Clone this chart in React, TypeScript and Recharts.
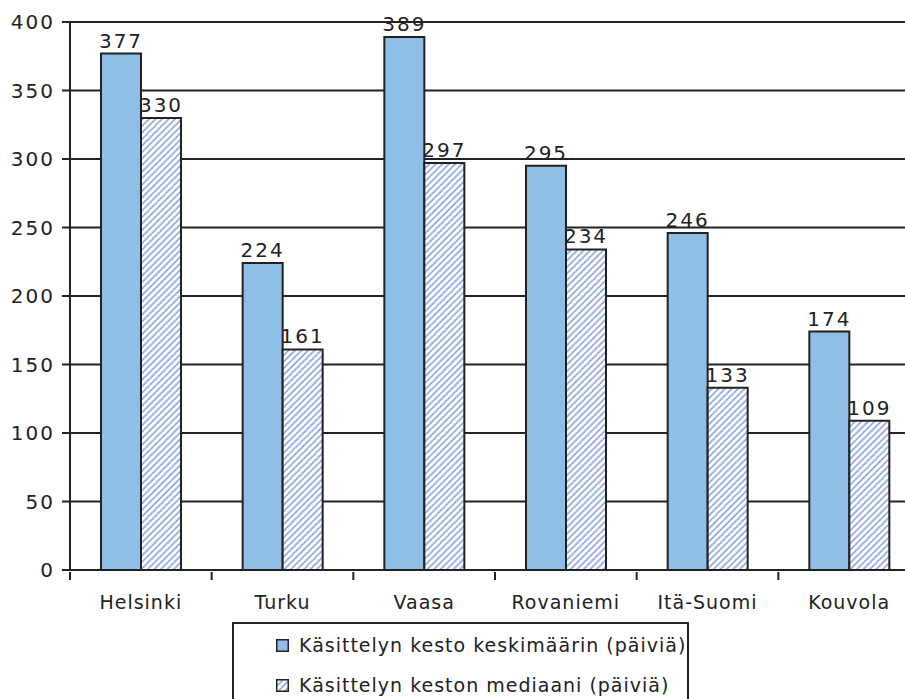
import { BarChart, Bar, XAxis, YAxis, CartesianGrid, LabelList } from 'recharts';

const cities = ['Helsinki', 'Turku', 'Vaasa', 'Rovaniemi', 'Itä-Suomi', 'Kouvola'];
const meanDays = [377, 224, 389, 295, 246, 174];
const medianDays = [330, 161, 297, 234, 133, 109];
const yTicks = [0, 50, 100, 150, 200, 250, 300, 350, 400];
const seriesNames = ['Käsittelyn kesto keskimäärin (päiviä)', 'Käsittelyn keston mediaani (päiviä)'];

const data = cities.map((city, i) => ({
  city,
  mean: meanDays[i],
  median: medianDays[i]
}));

const FONT = '"DejaVu Sans", sans-serif';
const INK = '#222';
const BLUE = '#8fbfe7';
const HATCH = '#7a98dd';

const numberStyle = { fontFamily: FONT, fontSize: 20, fill: INK, letterSpacing: 2 };

const HatchDefs = () => (
  <defs>
    <pattern id="hatch" patternUnits="userSpaceOnUse" width="4.6" height="4.6" patternTransform="rotate(45)">
      <rect width="4.6" height="4.6" fill="#fff" />
      <line x1="1" y1="0" x2="1" y2="4.6" stroke={HATCH} strokeWidth="1.4" />
    </pattern>
  </defs>
);

// category label plus the tick marks at the band edges
const CityTick = (props: any) => {
  const { x, y, payload, index, visibleTicksCount } = props;
  const half = payload.offset || 0;
  const isLast = index === visibleTicksCount - 1;
  return (
    <g>
      <line x1={x - half} y1={y} x2={x - half} y2={y + 8} stroke={INK} strokeWidth={2} />
      {isLast && <line x1={x + half} y1={y} x2={x + half} y2={y + 8} stroke={INK} strokeWidth={2} />}
      <text
        x={x}
        y={y + 37}
        textAnchor="middle"
        style={{ fontFamily: FONT, fontSize: 19, fill: INK, letterSpacing: 1 }}
      >
        {payload.value}
      </text>
    </g>
  );
};

const LegendIcon = ({ hatched }: { hatched: boolean }) => (
  <svg width={13} height={13} style={{ marginRight: 10, flex: 'none' }}>
    <HatchDefs />
    <rect x={0.75} y={0.75} width={11.5} height={11.5} fill={hatched ? 'url(#hatch)' : BLUE} stroke={INK} strokeWidth={1.5} />
  </svg>
);

export default function App() {
  return (
    <div style={{ position: 'absolute', left: 0, top: 0, width: 905, height: 699, overflow: 'hidden', background: '#fff' }}>
      <BarChart
        width={920}
        height={699}
        data={data}
        margin={{ top: 22, right: 0, left: 0, bottom: 69 }}
        barGap={0}
        barSize={40}
      >
        <HatchDefs />
        <CartesianGrid vertical={false} stroke={INK} strokeWidth={2} />
        <XAxis
          dataKey="city"
          height={60}
          axisLine={{ stroke: INK, strokeWidth: 2 }}
          tickLine={false}
          tickSize={0}
          interval={0}
          tick={<CityTick />}
        />
        <YAxis
          width={70}
          domain={[0, 400]}
          ticks={yTicks}
          tickSize={8}
          tickMargin={7}
          tickLine={{ stroke: INK, strokeWidth: 2 }}
          axisLine={{ stroke: INK, strokeWidth: 2 }}
          tick={numberStyle}
        />
        <Bar dataKey="mean" name={seriesNames[0]} fill={BLUE} stroke={INK} strokeWidth={2} isAnimationActive={false}>
          <LabelList dataKey="mean" position="top" offset={6} style={numberStyle} />
        </Bar>
        <Bar dataKey="median" name={seriesNames[1]} fill="url(#hatch)" stroke={INK} strokeWidth={2} isAnimationActive={false}>
          <LabelList dataKey="median" position="top" offset={6} style={numberStyle} />
        </Bar>
      </BarChart>
      <div
        style={{
          position: 'absolute',
          left: 232,
          top: 622,
          width: 457,
          height: 90,
          border: `2px solid ${INK}`,
          fontFamily: FONT,
          fontSize: 19,
          letterSpacing: 1,
          color: INK,
          paddingLeft: 42,
          boxSizing: 'border-box',
          whiteSpace: 'nowrap'
        }}
      >
        {seriesNames.map((name, i) => (
          <div key={name} style={{ display: 'flex', alignItems: 'center', height: 40, marginTop: i === 0 ? 1 : 0 }}>
            <LegendIcon hatched={i === 1} />
            <span>{name}</span>
          </div>
        ))}
      </div>
    </div>
  );
}
